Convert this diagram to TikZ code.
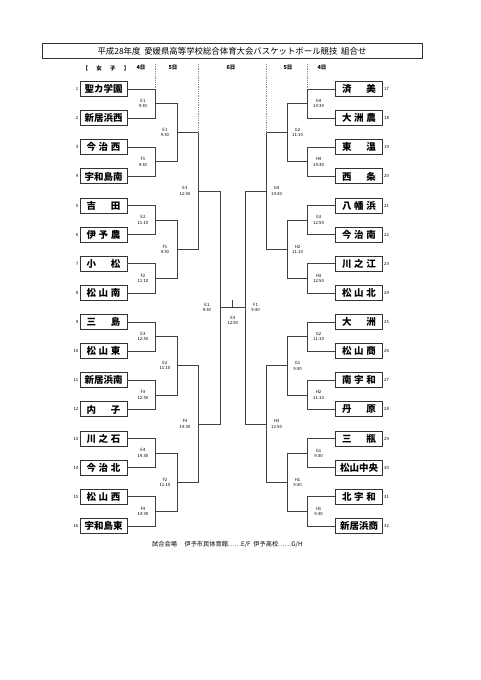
\documentclass[tikz,border=0pt]{standalone}
\usepackage{fontspec}
\usetikzlibrary{calc}
\newfontfamily\jp{Noto Sans CJK JP}
\newcommand\spread[1]{\makebox[34pt][s]{#1}}

\tikzset{
  team/.style={draw=black!80, line width=0.9pt, minimum width=47pt, minimum height=15pt,
    inner sep=0pt, font=\jp\bfseries\fontsize{9.5}{10}\selectfont},
  seed/.style={font=\jp\fontsize{4.3}{5}\selectfont, inner sep=1pt},
  game/.style={font=\jp\fontsize{4.3}{5.4}\selectfont, align=center, inner sep=0pt},
  bracket/.style={line width=0.7pt, black!75},
  daybar/.style={line width=0.6pt, black!45, dash pattern=on 1pt off 0.8pt},
  day/.style={font=\jp\bfseries\fontsize{5.5}{6}\selectfont, inner sep=0pt},
}

\begin{document}
\begin{tikzpicture}[x=1pt, y=-1pt]
  \useasboundingbox[fill=white] (0,0) rectangle (481,680);

  \node[draw=black!80, line width=0.8pt, minimum width=380pt, minimum height=14pt,
    font=\jp\fontsize{8.4}{9}\selectfont] (title) at (232,51)
    {平成28年度\ \ 愛媛県高等学校総合体育大会バスケットボール競技\ \ 組合せ};

  \node[day] (girls) at (106,68) {\makebox[47pt][s]{【\hfill 女\hfill 子\hfill 】}};
  \node[day] (d4l) at (141,68) {4日};
  \node[day] (d5l) at (173,68) {5日};
  \node[day] (d6)  at (231,68) {6日};
  \node[day] (d5r) at (288,68) {5日};
  \node[day] (d4r) at (322,68) {4日};
  \coordinate (top) at (0,64);

  % teams
  \foreach \name [count=\i] in {聖カ学園, 新居浜西, \spread{今\hfill 治\hfill 西}, 宇和島南,
      \spread{吉\hfill 田}, \spread{伊\hfill 予\hfill 農}, \spread{小\hfill 松}, \spread{松\hfill 山\hfill 南},
      \spread{三\hfill 島}, \spread{松\hfill 山\hfill 東}, 新居浜南, \spread{内\hfill 子},
      \spread{川\hfill 之\hfill 石}, \spread{今\hfill 治\hfill 北}, \spread{松\hfill 山\hfill 西}, 宇和島東}
    \node[team, label={[seed]left:\i}] (t\i) at (103.5,{89+(\i-1)*29.13}) {\name};
  \foreach \name [count=\i from 17] in {\spread{済\hfill 美}, \spread{大\hfill 洲\hfill 農}, \spread{東\hfill 温}, \spread{西\hfill 条},
      \spread{八\hfill 幡\hfill 浜}, \spread{今\hfill 治\hfill 南}, \spread{川\hfill 之\hfill 江}, \spread{松\hfill 山\hfill 北},
      \spread{大\hfill 洲}, \spread{松\hfill 山\hfill 商}, \spread{南\hfill 宇\hfill 和}, \spread{丹\hfill 原},
      \spread{三\hfill 瓶}, 松山中央, \spread{北\hfill 宇\hfill 和}, 新居浜商}
    \node[team, label={[seed]right:\i}] (t\i) at (359,{89+(\i-17)*29.13}) {\name};

  % left side
  \foreach \k in {1,...,8} {
    \pgfmathtruncatemacro\a{2*\k-1}
    \pgfmathtruncatemacro\b{2*\k}
    \draw[bracket] (t\a.east) -- ++(27.5,0) |- (t\b.east);
    \coordinate (l1-\k) at ($(t\a.east)!0.5!(t\b.east)+(27.5,0)$);
  }
  \foreach \k in {1,...,4} {
    \pgfmathtruncatemacro\a{2*\k-1}
    \pgfmathtruncatemacro\b{2*\k}
    \draw[bracket] (l1-\a) -- ++(22,0) |- (l1-\b);
    \coordinate (l2-\k) at ($(l1-\a)!0.5!(l1-\b)+(22,0)$);
  }
  \foreach \k in {1,2} {
    \pgfmathtruncatemacro\a{2*\k-1}
    \pgfmathtruncatemacro\b{2*\k}
    \draw[bracket] (l2-\a) -- ++(21,0) |- (l2-\b);
    \coordinate (l3-\k) at ($(l2-\a)!0.5!(l2-\b)+(21,0)$);
  }
  \draw[bracket] (l3-1) -- ++(22,0) |- (l3-2);
  \coordinate (lf) at ($(l3-1)!0.5!(l3-2)+(22,0)$);

  % right side
  \foreach \k in {1,...,8} {
    \pgfmathtruncatemacro\a{2*\k+15}
    \pgfmathtruncatemacro\b{2*\k+16}
    \draw[bracket] (t\a.west) -- ++(-27.5,0) |- (t\b.west);
    \coordinate (r1-\k) at ($(t\a.west)!0.5!(t\b.west)+(-27.5,0)$);
  }
  \foreach \k in {1,...,4} {
    \pgfmathtruncatemacro\a{2*\k-1}
    \pgfmathtruncatemacro\b{2*\k}
    \draw[bracket] (r1-\a) -- ++(-20,0) |- (r1-\b);
    \coordinate (r2-\k) at ($(r1-\a)!0.5!(r1-\b)+(-20,0)$);
  }
  \foreach \k in {1,2} {
    \pgfmathtruncatemacro\a{2*\k-1}
    \pgfmathtruncatemacro\b{2*\k}
    \draw[bracket] (r2-\a) -- ++(-21,0) |- (r2-\b);
    \coordinate (r3-\k) at ($(r2-\a)!0.5!(r2-\b)+(-21,0)$);
  }
  \draw[bracket] (r3-1) -- ++(-21,0) |- (r3-2);
  \coordinate (rf) at ($(r3-1)!0.5!(r3-2)+(-21,0)$);

  % final
  \draw[bracket] (lf) -- (rf);
  \coordinate (mid) at ($(lf)!0.5!(rf)$);
  \draw[bracket] (mid) -- ++(0,-7);

  % day columns
  \draw[daybar] (l1-1 |- top) -- (l1-1 |- t1);
  \draw[daybar] (l3-1 |- top) -- (l3-1 |- l2-1);
  \draw[daybar] (r1-1 |- top) -- (r1-1 |- t17);
  \draw[daybar] (r3-1 |- top) -- (r3-1 |- r2-1);

  % games
  \foreach \txt [count=\k] in {E1\\9:30, F1\\9:30, E2\\11:10, F2\\11:10, E3\\12:50, F3\\12:50, E4\\14:30, F4\\14:30}
    \node[game] (ga\k) at ($(l1-\k)+(-12,0)$) {\txt};
  \foreach \txt [count=\k] in {E1\\9:30, F1\\9:30, E2\\11:10, F2\\11:10}
    \node[game] (gb\k) at ($(l2-\k)+(-12,0)$) {\txt};
  \foreach \txt [count=\k] in {E3\\12:50, F4\\14:30}
    \node[game] (gc\k) at ($(l3-\k)+(-13,0)$) {\txt};
  \foreach \txt [count=\k] in {G4\\14:30, H4\\14:30, G3\\12:50, H3\\12:50, G2\\11:10, H2\\11:10, G1\\9:30, H1\\9:30}
    \node[game] (gd\k) at ($(r1-\k)+(11,0)$) {\txt};
  \foreach \txt [count=\k] in {G2\\11:10, H2\\11:10, G1\\9:30, H1\\9:30}
    \node[game] (ge\k) at ($(r2-\k)+(10,0)$) {\txt};
  \foreach \txt [count=\k] in {G4\\14:30, H3\\12:50}
    \node[game] (gf\k) at ($(r3-\k)+(10,0)$) {\txt};
  \node[game] (semil) at ($(lf)+(-13,0)$) {E1\\9:30};
  \node[game] (semir) at ($(rf)+(10,0)$) {F1\\9:30};
  \node[game] (final) at ($(mid)+(0,13)$) {E3\\12:50};

  \node[font=\jp\fontsize{6.2}{7}\selectfont, anchor=west, inner sep=0pt] (venue) at (152,544)
    {試合会場\quad\ 伊予市民体育館……E/F\ \ 伊予高校……G/H};
\end{tikzpicture}
\end{document}
